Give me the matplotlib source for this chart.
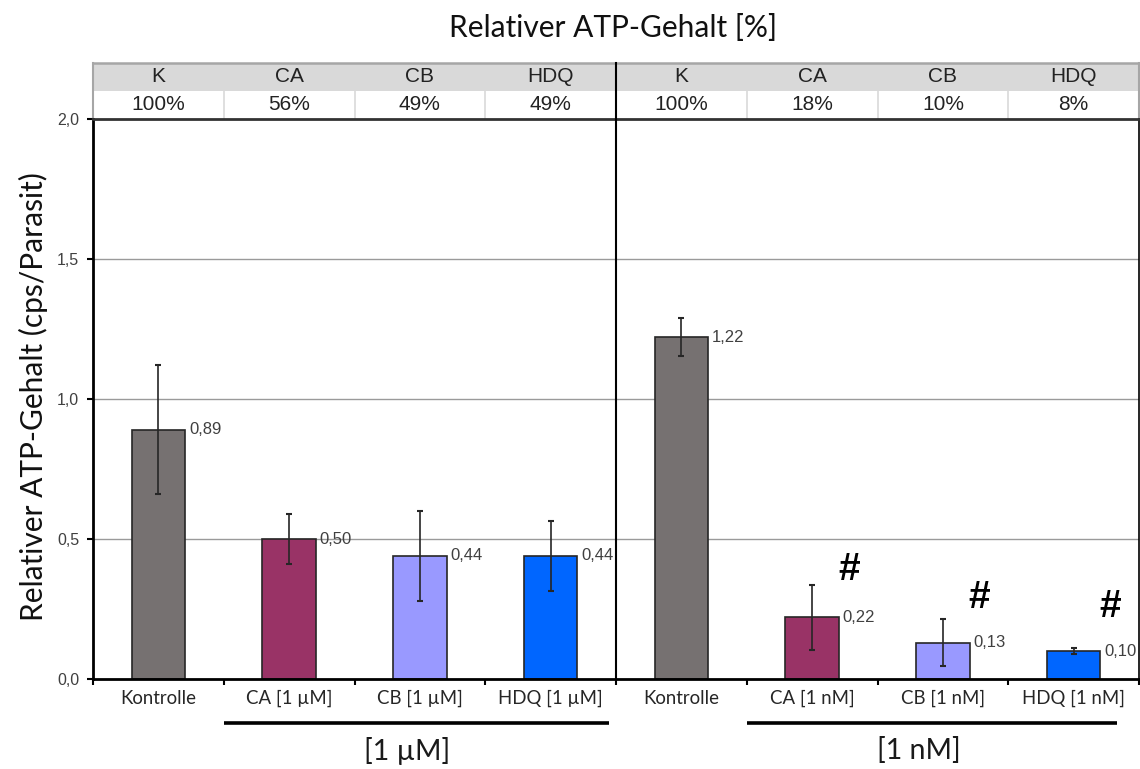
import matplotlib
matplotlib.use("Agg")
import matplotlib.pyplot as plt
from matplotlib.patches import Rectangle
from matplotlib.ticker import FuncFormatter, FixedLocator


# Data

categories = ["Kontrolle", "CA [1 µM]", "CB [1 µM]", "HDQ [1 µM]",
              "Kontrolle", "CA [1 nM]", "CB [1 nM]", "HDQ [1 nM]"]
values = [0.89, 0.50, 0.44, 0.44, 1.22, 0.22, 0.13, 0.10]
errors = [0.23, 0.088, 0.16, 0.125, 0.068, 0.115, 0.085, 0.009]
bar_colors = ["#767171", "#993366", "#9999FF", "#0066FF",
              "#767171", "#993366", "#9999FF", "#0066FF"]

table_head = ["K", "CA", "CB", "HDQ", "K", "CA", "CB", "HDQ"]
table_pct = ["100%", "56%", "49%", "49%", "100%", "18%", "10%", "8%"]

groups = ["[1 µM]", "[1 nM]"]
group_span = [(0.5, 3.45), (4.5, 7.33)]
group_text_x = [1.9, 5.82]

hash_idx = [5, 6, 7]
hash_y = [0.39, 0.29, 0.257]

yticks = [0.0, 0.5, 1.0, 1.5, 2.0]

SANS = ["Lato", "DejaVu Sans"]
ARIAL = ["Liberation Sans", "DejaVu Sans"]


fig = plt.figure(figsize=(11.4, 7.69), dpi=100)
ax = fig.add_axes([93 / 1140, 90 / 769, 1046 / 1140, 560 / 769])

x = list(range(len(categories)))

# gridlines
for yv in yticks[1:-1]:
    ax.axhline(yv, color="#9a9a9a", lw=1.0, zorder=0)

ax.bar(x, values, width=0.41, color=bar_colors, edgecolor="#262626",
       linewidth=1.2, zorder=2)
ax.errorbar(x, values, yerr=errors, fmt="none", ecolor="#262626",
            elinewidth=1.2, capsize=2.3, capthick=1.5, zorder=3)

# value labels right of the bar tops
for xi, v in zip(x, values):
    ax.text(xi + 0.235, v, f"{v:.2f}".replace(".", ","), ha="left",
            va="center", fontsize=12, color="#404040", family=ARIAL, zorder=4)

# significance marks
for i, hy in zip(hash_idx, hash_y):
    ax.text(i + 0.28, hy, "#", ha="center", va="center", fontsize=28,
            fontweight="bold", color="black", family=ARIAL)

ax.set_xlim(-0.5, 7.5)
ax.set_ylim(0, 2.0)

# y axis
ax.yaxis.set_major_locator(FixedLocator(yticks))
ax.yaxis.set_major_formatter(FuncFormatter(lambda v, p: f"{v:.1f}".replace(".", ",")))
ax.tick_params(axis="y", direction="out", length=4, width=1.5, pad=6,
               labelsize=11.5, labelcolor="#404040")
for lab in ax.get_yticklabels():
    lab.set_family(ARIAL)

# x axis: ticks at category boundaries, labels at centers
ax.xaxis.set_major_locator(FixedLocator([i - 0.5 for i in range(len(categories) + 1)]))
ax.xaxis.set_major_formatter(FuncFormatter(lambda v, p: ""))
ax.xaxis.set_minor_locator(FixedLocator(x))
ax.set_xticklabels(categories, minor=True)
ax.tick_params(axis="x", which="major", direction="out", length=4, width=1.5)
ax.tick_params(axis="x", which="minor", length=0, pad=8, labelsize=13.4,
               labelcolor="#262626")
for lab in ax.get_xticklabels(minor=True):
    lab.set_family(SANS)

ax.spines["left"].set_linewidth(2)
ax.spines["bottom"].set_linewidth(2)
ax.spines["top"].set_linewidth(2)
ax.spines["top"].set_color("#333333")
ax.spines["right"].set_linewidth(1.2)

# table above the plot
trans = ax.get_xaxis_transform()
ax.add_patch(Rectangle((-0.5, 1.05), 8, 0.05, facecolor="#D9D9D9",
                       edgecolor="none", transform=trans, clip_on=False))
ax.add_patch(Rectangle((-0.5, 1.0), 8, 0.05, facecolor="white",
                       edgecolor="none", transform=trans, clip_on=False))
for xb in [0.5, 1.5, 2.5, 4.5, 5.5, 6.5]:
    ax.plot([xb, xb], [1.0, 1.05], color="#D9D9D9", lw=1.2,
            transform=trans, clip_on=False)
ax.plot([-0.5, 7.5], [1.1, 1.1], color="#A6A6A6", lw=1.8,
        transform=trans, clip_on=False)
ax.plot([-0.5, -0.5], [1.0, 1.1], color="#A6A6A6", lw=1.5,
        transform=trans, clip_on=False)
ax.plot([7.5, 7.5], [1.0, 1.1], color="#A6A6A6", lw=1.5,
        transform=trans, clip_on=False)
# divider between the two concentrations
ax.plot([3.5, 3.5], [0, 1.1], color="black", lw=1.5,
        transform=trans, clip_on=False, zorder=5)

for xi, h, p in zip(x, table_head, table_pct):
    ax.text(xi, 1.075, h, ha="center", va="center", fontsize=15,
            color="#222222", family=ARIAL, transform=trans)
    ax.text(xi, 1.025, p, ha="center", va="center", fontsize=15,
            color="#222222", family=ARIAL, transform=trans)

# group brackets
for (x0, x1), g, gx in zip(group_span, groups, group_text_x):
    ax.plot([x0, x1], [-0.078, -0.078], color="black", lw=2.6,
            transform=trans, clip_on=False, solid_capstyle="butt")
    ax.text(gx, -0.128, g, ha="center", va="center", fontsize=20.5,
            color="#1a1a1a", family=SANS, transform=trans)

fig.text(613 / 1140, 1 - 28 / 769, "Relativer ATP-Gehalt [%]", ha="center",
         va="center", fontsize=21.5, color="#111111", family=SANS)
fig.text(33 / 1140, 1 - 397 / 769, "Relativer ATP-Gehalt (cps/Parasit)",
         rotation=90, ha="center", va="center", fontsize=21.5,
         color="#111111", family=SANS)

fig.savefig("out.png", dpi=100)
